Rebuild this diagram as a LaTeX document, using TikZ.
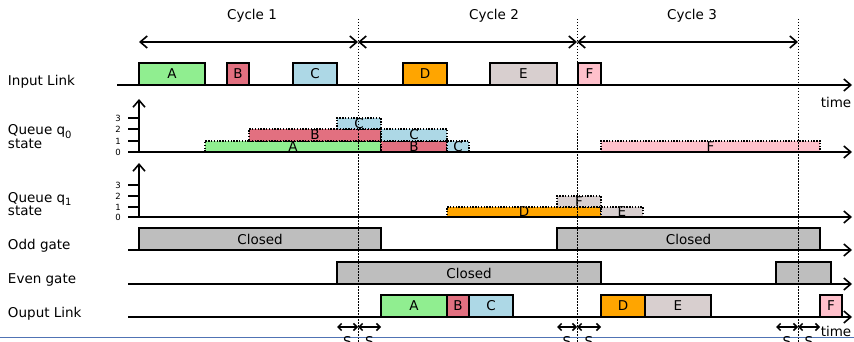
\documentclass[tikz,border=0pt]{standalone}
\usepackage{fontspec}
\setmainfont{DejaVu Sans}
\usetikzlibrary{arrows.meta}

\definecolor{pktA}{HTML}{90EE90}
\definecolor{pktB}{RGB}{226,112,128}
\definecolor{pktC}{HTML}{ADD8E6}
\definecolor{pktD}{HTML}{FFA500}
\definecolor{pktE}{RGB}{216,207,207}
\definecolor{pktF}{HTML}{FFC0CB}
\definecolor{gateclosed}{RGB}{190,190,190}
\definecolor{frameblue}{RGB}{80,115,180}

% block: name, x-left, x-right, y-bottom, y-top, style, text
\newcommand\blk[7]{%
  \node[#6, anchor=south west, minimum width={#3-#2}, minimum height={#4-#5}]
    (#1) at (#2,#4) {#7};}
% lowered sans subscript
\newcommand\qsub[1]{\raisebox{-3.5pt}{\fontsize{10}{10}\selectfont #1}}

\begin{document}
\begin{tikzpicture}[x=1pt,y=-1pt,
  txt/.style={font=\fontsize{13.5}{14}\selectfont, inner sep=0, outer sep=0},
  smalltxt/.style={font=\fontsize{8.5}{9}\selectfont, inner sep=0},
  timeaxis/.style={line width=1.6, -{Straight Barb[length=7,width=12]}},
  yaxis/.style={line width=1.6, -{Straight Barb[length=7,width=12]}},
  cyclearrow/.style={line width=1.6, {Straight Barb[length=7,width=12]}-{Straight Barb[length=7,width=12]}},
  sarrow/.style={line width=1.5, {Straight Barb[length=3.5,width=7]}-{Straight Barb[length=3.5,width=7]}},
  boundary/.style={line width=0.8, dash pattern=on 1.5 off 1.5},
  frame/.style={draw, line width=1.6, inner sep=0, outer sep=0, font=\fontsize{13.5}{14}\selectfont},
  queued/.style={draw, line width=1.5, dash pattern=on 1.4 off 1.4, inner sep=0, outer sep=0, font=\fontsize{13.5}{14}\selectfont},
  tick/.style={line width=1.6},
]
\useasboundingbox (0,0) rectangle (854,342);

% ---------- cycles ----------
\coordinate (b0) at (139,42);
\coordinate (b1) at (358,42);
\coordinate (b2) at (577,42);
\coordinate (b3) at (798,42);
\draw[cyclearrow] (b0) -- (b1);
\draw[cyclearrow] (b1) -- (b2);
\draw[cyclearrow] (b2) -- (b3);
\node[txt] (cyc1) at (252,16) {Cycle 1};
\node[txt] (cyc2) at (494,16) {Cycle 2};
\node[txt] (cyc3) at (692,16) {Cycle 3};

% ---------- row labels ----------
\node[txt, anchor=base west] (lin) at (8,86) {Input Link};
\node[txt, anchor=base west] (lq0a) at (8,135) {Queue q\qsub{0}};
\node[txt, anchor=base west] (lq0b) at (8,149) {state};
\node[txt, anchor=base west] (lq1a) at (8,202) {Queue q\qsub{1}};
\node[txt, anchor=base west] (lq1b) at (8,215) {state};
\node[txt, anchor=base west] (lodd) at (8,249) {Odd gate};
\node[txt, anchor=base west] (leven) at (8,283) {Even gate};
\node[txt, anchor=base west] (lout) at (8,317) {Ouput Link};

% ---------- input link ----------
\coordinate (in0) at (117,85);
\coordinate (in1) at (852,85);
\draw[timeaxis] (in0) -- (in1);
\node[txt] (time1) at (836,102) {time};
\blk{inA}{139}{205}{85}{63}{frame,fill=pktA}{A}
\blk{inB}{227}{249}{85}{63}{frame,fill=pktB}{B}
\blk{inC}{293}{337}{85}{63}{frame,fill=pktC}{C}
\blk{inD}{403}{447}{85}{63}{frame,fill=pktD}{D}
\blk{inE}{490}{557}{85}{63}{frame,fill=pktE}{E}
\blk{inF}{578}{601}{85}{63}{frame,fill=pktF}{F}

% ---------- queue q0 ----------
\coordinate (q0o) at (139,152);
\coordinate (q0top) at (139,99);
\coordinate (q0s) at (128,152);
\coordinate (q0e) at (852,152);
\foreach \lv/\yy in {0/152,1/141,2/129,3/118}{
  \draw[tick] (128,\yy) -- (139,\yy);
  \node[smalltxt] at (118,\yy) {\lv};
}
\blk{q0A}{205}{381}{152}{141}{queued,fill=pktA}{A}
\blk{q0B}{249}{381}{141}{129}{queued,fill=pktB}{B}
\blk{q0C}{337}{381}{129}{118}{queued,fill=pktC}{C}
\blk{q0Bb}{381}{447}{152}{141}{queued,fill=pktB}{B}
\blk{q0Cb}{381}{447}{141}{129}{queued,fill=pktC}{C}
\blk{q0Cc}{447}{469}{152}{141}{queued,fill=pktC}{C}
\blk{q0F}{601}{820}{152}{141}{queued,fill=pktF}{F}
\draw[yaxis] (q0o) -- (q0top);
\draw[timeaxis] (q0s) -- (q0e);

% ---------- queue q1 ----------
\coordinate (q1o) at (139,217);
\coordinate (q1top) at (139,163);
\coordinate (q1s) at (128,217);
\coordinate (q1e) at (852,217);
\foreach \lv/\yy in {0/217,1/207,2/196,3/185}{
  \draw[tick] (128,\yy) -- (139,\yy);
  \node[smalltxt] at (118,\yy) {\lv};
}
\blk{q1D}{447}{601}{217}{207}{queued,fill=pktD}{D}
\blk{q1F}{557}{601}{207}{196}{queued,fill=pktE}{F}
\blk{q1E}{601}{643}{217}{207}{queued,fill=pktE}{E}
\draw[yaxis] (q1o) -- (q1top);
\draw[timeaxis] (q1s) -- (q1e);

% ---------- odd gate ----------
\coordinate (od0) at (128,250);
\coordinate (od1) at (852,250);
\draw[timeaxis] (od0) -- (od1);
\blk{odd1}{139}{381}{250}{228}{frame,fill=gateclosed}{Closed}
\blk{odd2}{557}{820}{250}{228}{frame,fill=gateclosed}{Closed}

% ---------- even gate ----------
\coordinate (ev0) at (128,284);
\coordinate (ev1) at (852,284);
\draw[timeaxis] (ev0) -- (ev1);
\blk{even1}{337}{601}{284}{262}{frame,fill=gateclosed}{Closed}
\blk{even2}{776}{831}{284}{262}{frame,fill=gateclosed}{}

% ---------- output link ----------
\coordinate (out0) at (128,317);
\coordinate (out1) at (852,317);
\draw[timeaxis] (out0) -- (out1);
\blk{outA}{381}{447}{317}{295}{frame,fill=pktA}{A}
\blk{outB}{447}{469}{317}{295}{frame,fill=pktB}{B}
\blk{outC}{469}{513}{317}{295}{frame,fill=pktC}{C}
\blk{outD}{601}{645}{317}{295}{frame,fill=pktD}{D}
\blk{outE}{645}{711}{317}{295}{frame,fill=pktE}{E}
\blk{outF}{820}{842}{317}{295}{frame,fill=pktF}{F}

% ---------- cycle boundaries ----------
\foreach \xx in {358,577,798}{
  \coordinate (top\xx) at (\xx,19);
  \coordinate (bot\xx) at (\xx,342);
  \draw[boundary] (top\xx) -- (bot\xx);
}

% ---------- frame rule ----------
\coordinate (fr0) at (0,337);
\coordinate (fr1) at (854,337);
\draw[frameblue, line width=1] (fr0) -- (fr1);

% ---------- guard bands ----------
\foreach \xl/\xm/\xr in {337/358/381, 557/577/601, 776/798/820}{
  \coordinate (gl\xm) at (\xl,327);
  \coordinate (gm\xm) at (\xm,327);
  \coordinate (gr\xm) at (\xr,327);
  \draw[sarrow] (gl\xm) -- (gm\xm);
  \draw[sarrow] (gm\xm) -- (gr\xm);
  \node[txt, anchor=north] at ({(\xl+\xm)/2},336) {S};
  \node[txt, anchor=north] at ({(\xm+\xr)/2},336) {S};
}
\node[txt] (time2) at (836,331) {time};
\end{tikzpicture}
\end{document}
